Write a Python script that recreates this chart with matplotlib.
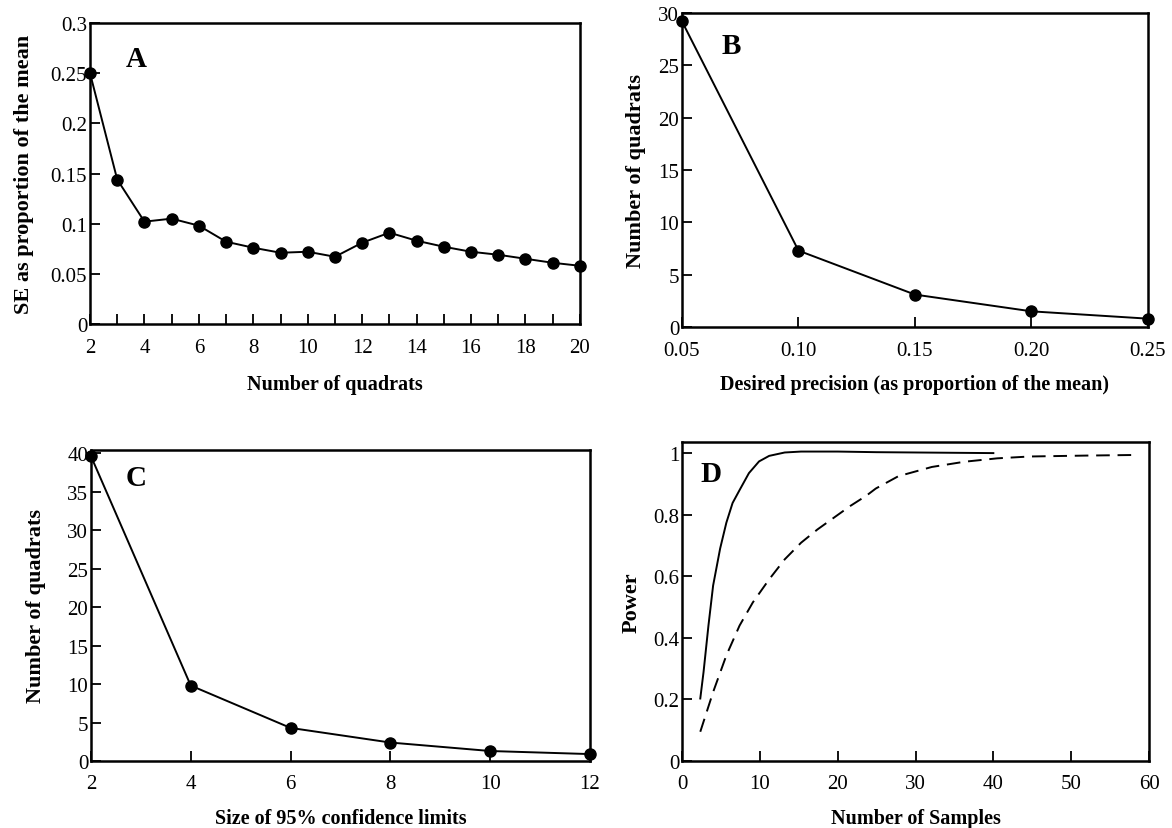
import matplotlib
matplotlib.use('Agg')
import matplotlib.pyplot as plt
from matplotlib.ticker import MultipleLocator

plt.rcParams['font.family'] = ['Liberation Serif', 'DejaVu Serif']

# Panel A: SE vs number of quadrats
a_quadrats = list(range(2, 21))
a_se = [0.250, 0.144, 0.102, 0.105, 0.098, 0.082, 0.076, 0.071, 0.072, 0.067,
        0.081, 0.091, 0.083, 0.077, 0.072, 0.069, 0.065, 0.061, 0.058]

# Panel B: quadrats vs desired precision
b_precision = [0.05, 0.10, 0.15, 0.20, 0.25]
b_quadrats = [29.2, 7.3, 3.1, 1.5, 0.8]
b_ticklabels = ['0.05', '0.10', '0.15', '0.20', '0.25']

# Panel C: quadrats vs size of 95% CI
c_size = [2, 4, 6, 8, 10, 12]
c_quadrats = [39.6, 9.8, 4.3, 2.4, 1.3, 0.9]

# Panel D: power curves
d_solid_n = [2.35, 2.77, 3.4, 4.0, 4.9, 5.7, 6.5, 7.4, 8.6, 9.9, 11.2, 13.2,
             15.3, 20.0, 25.0, 30.0, 35.0, 40.0]
d_solid_p = [0.203, 0.289, 0.44, 0.57, 0.69, 0.774, 0.838, 0.88, 0.935, 0.973,
             0.991, 1.002, 1.005, 1.005, 1.003, 1.002, 1.001, 1.000]
d_dash_n = [2.35, 4.0, 5.7, 7.4, 9.1, 11.2, 13.2, 15.3, 17.4, 19.5, 21.6, 23.7,
            24.9, 27.8, 32.1, 36.3, 40.5, 44.7, 52.0, 58.5]
d_dash_p = [0.095, 0.224, 0.343, 0.44, 0.515, 0.59, 0.655, 0.709, 0.752, 0.79,
            0.828, 0.862, 0.885, 0.925, 0.955, 0.972, 0.983, 0.989, 0.992, 0.994]

xlabel_font = dict(fontsize=14.5, fontweight='bold')
ylabel_font = dict(fontsize=16, fontweight='bold')
letter_font = dict(fontsize=21, fontweight='bold')


def style_axes(ax, xpad):
    for sp in ax.spines.values():
        sp.set_linewidth(1.8)
    ax.tick_params(which='both', direction='in', length=7, width=1.3,
                   labelsize=15, top=False, right=False)
    ax.tick_params(axis='x', pad=xpad)
    ax.tick_params(axis='y', pad=2)


fig = plt.figure(figsize=(11.72, 8.29), dpi=100)

# A
ax = fig.add_axes([0.0768, 0.608, 0.418, 0.363])
ax.plot(a_quadrats, a_se, color='black', lw=1.4, marker='o', ms=8, clip_on=False, zorder=3)
ax.set_xlim(2, 20)
ax.set_ylim(0, 0.3)
ax.xaxis.set_major_locator(MultipleLocator(2))
ax.xaxis.set_minor_locator(MultipleLocator(1))
ax.set_yticks([0, 0.05, 0.1, 0.15, 0.2, 0.25, 0.3])
ax.set_yticklabels(['0', '0.05', '0.1', '0.15', '0.2', '0.25', '0.3'])
style_axes(ax, 10)
ax.set_xlabel('Number of quadrats', labelpad=12, **xlabel_font)
ax.set_ylabel('SE as proportion of the mean', labelpad=12, **ylabel_font)
ax.text(0.073, 0.882, 'A', transform=ax.transAxes, va='center', **letter_font)

# B
ax = fig.add_axes([0.5819, 0.6043, 0.3976, 0.3788])
ax.plot(b_precision, b_quadrats, color='black', lw=1.4, marker='o', ms=8, clip_on=False, zorder=3)
ax.set_xlim(0.05, 0.25)
ax.set_ylim(0, 30)
ax.set_xticks(b_precision)
ax.set_xticklabels(b_ticklabels)
ax.set_yticks(range(0, 31, 5))
style_axes(ax, 10)
ax.set_xlabel('Desired precision (as proportion of the mean)', labelpad=10, **xlabel_font)
ax.set_ylabel('Number of quadrats', labelpad=9, **ylabel_font)
ax.text(0.086, 0.895, 'B', transform=ax.transAxes, va='center', **letter_font)

# C
ax = fig.add_axes([0.0776, 0.0808, 0.4258, 0.3752])
ax.plot(c_size, c_quadrats, color='black', lw=1.4, marker='o', ms=8, clip_on=False, zorder=3)
ax.set_xlim(2, 12)
ax.set_ylim(0, 40.4)
ax.set_xticks(c_size)
ax.set_yticks(range(0, 41, 5))
style_axes(ax, 9)
ax.set_xlabel('Size of 95% confidence limits', labelpad=11, **xlabel_font)
ax.set_ylabel('Number of quadrats', labelpad=15, **ylabel_font)
ax.text(0.07, 0.913, 'C', transform=ax.transAxes, va='center', **letter_font)

# D
ax = fig.add_axes([0.5819, 0.0808, 0.3985, 0.3848])
ax.plot(d_solid_n, d_solid_p, color='black', lw=1.4)
ax.plot(d_dash_n, d_dash_p, color='black', lw=1.4, dashes=(7, 4))
ax.set_xlim(0, 60)
ax.set_ylim(0, 1.036)
ax.set_xticks(range(0, 61, 10))
ax.set_yticks([0, 0.2, 0.4, 0.6, 0.8, 1])
ax.set_yticklabels(['0', '0.2', '0.4', '0.6', '0.8', '1'])
style_axes(ax, 9)
ax.set_xlabel('Number of Samples', labelpad=11, **xlabel_font)
ax.set_ylabel('Power', labelpad=8, **ylabel_font)
ax.text(0.04, 0.90, 'D', transform=ax.transAxes, va='center', **letter_font)

fig.savefig('out.png', dpi=100)
